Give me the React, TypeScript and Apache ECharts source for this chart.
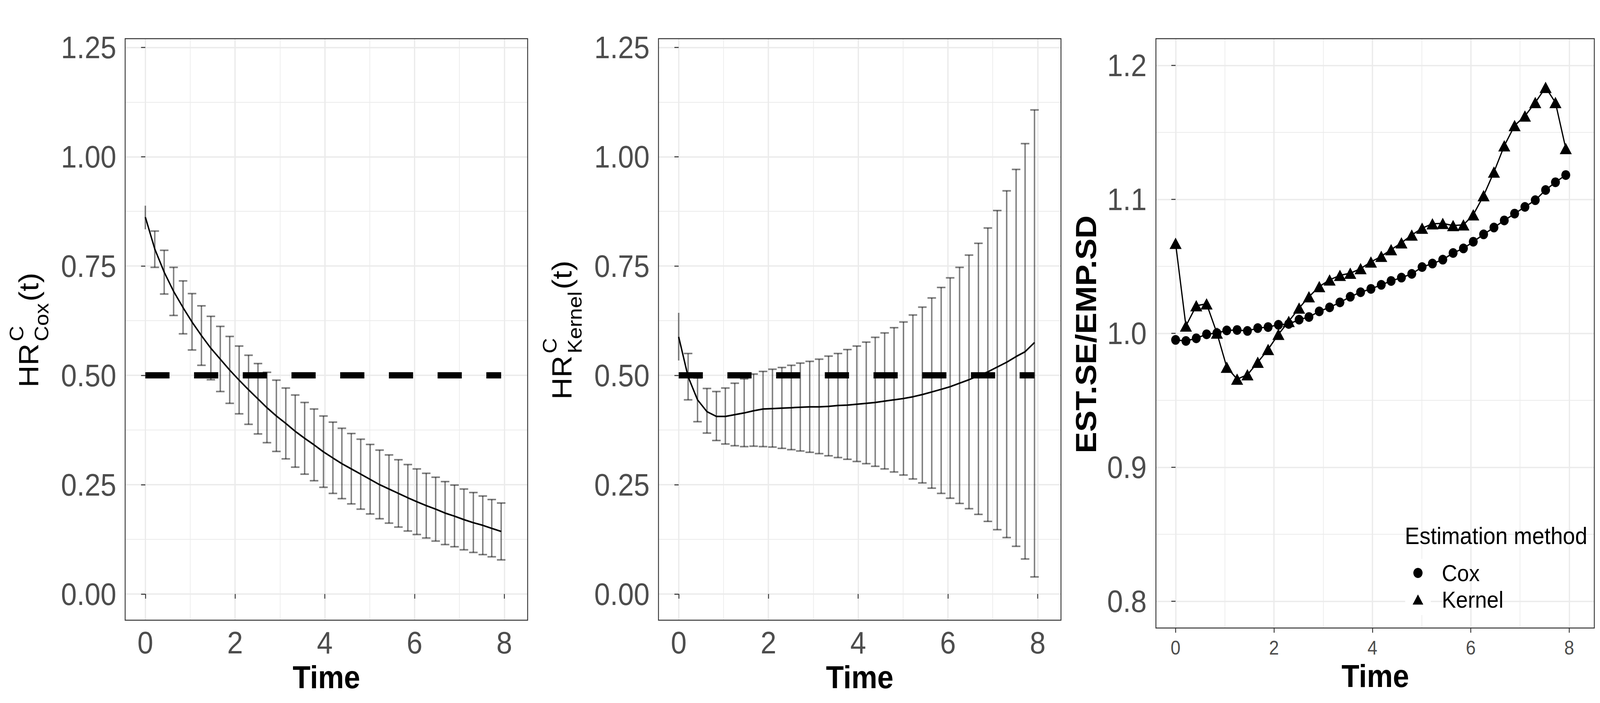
import React, { useEffect, useRef } from "react";
import * as echarts from "echarts";

// ---------- data ----------
const times = [
  0.0, 0.21, 0.42, 0.63, 0.84, 1.04, 1.25, 1.46, 1.67, 1.88, 2.09, 2.3, 2.51, 2.71, 2.92, 3.13,
  3.34, 3.55, 3.76, 3.97, 4.18, 4.38, 4.59, 4.8, 5.01, 5.22, 5.43, 5.64, 5.85, 6.05, 6.26, 6.47,
  6.68, 6.89, 7.1, 7.31, 7.52, 7.72, 7.93,
];

const coxEst = [
  0.862, 0.789, 0.736, 0.692, 0.655, 0.622, 0.591, 0.562, 0.537, 0.512, 0.489, 0.467, 0.446,
  0.426, 0.407, 0.39, 0.372, 0.356, 0.341, 0.325, 0.311, 0.298, 0.286, 0.274, 0.262, 0.25, 0.24,
  0.23, 0.22, 0.211, 0.202, 0.194, 0.185, 0.178, 0.17, 0.163, 0.157, 0.15, 0.143,
];
const coxUpper = [
  0.888, 0.83, 0.786, 0.747, 0.716, 0.687, 0.659, 0.635, 0.612, 0.589, 0.567, 0.546, 0.527,
  0.507, 0.489, 0.471, 0.455, 0.438, 0.423, 0.407, 0.393, 0.379, 0.367, 0.354, 0.342, 0.329,
  0.318, 0.307, 0.296, 0.286, 0.276, 0.267, 0.257, 0.249, 0.24, 0.232, 0.224, 0.216, 0.208,
];
const coxLower = [
  0.834, 0.747, 0.686, 0.637, 0.595, 0.558, 0.523, 0.49, 0.463, 0.436, 0.412, 0.388, 0.366,
  0.346, 0.326, 0.309, 0.29, 0.274, 0.259, 0.244, 0.23, 0.218, 0.206, 0.194, 0.183, 0.172, 0.162,
  0.153, 0.144, 0.136, 0.128, 0.121, 0.113, 0.108, 0.101, 0.095, 0.09, 0.085, 0.078,
];

const kernelEst = [
  0.588, 0.497, 0.444, 0.417, 0.406, 0.406, 0.41, 0.414, 0.419, 0.423, 0.424, 0.425, 0.426,
  0.427, 0.428, 0.428, 0.429, 0.431, 0.432, 0.434, 0.436, 0.438, 0.441, 0.444, 0.447, 0.451,
  0.456, 0.462, 0.468, 0.474, 0.482, 0.49, 0.499, 0.508, 0.519, 0.53, 0.543, 0.554, 0.575,
];
const kernelUpper = [
  0.643, 0.55, 0.494, 0.47, 0.463, 0.471, 0.482, 0.492, 0.503, 0.509, 0.514, 0.518, 0.523,
  0.528, 0.532, 0.537, 0.544, 0.55, 0.559, 0.567, 0.576, 0.587, 0.597, 0.609, 0.622, 0.638,
  0.656, 0.677, 0.701, 0.723, 0.747, 0.775, 0.802, 0.837, 0.877, 0.922, 0.971, 1.03, 1.107,
];
const kernelLower = [
  0.534, 0.444, 0.394, 0.368, 0.351, 0.343, 0.339, 0.337, 0.338, 0.337, 0.336, 0.333, 0.33,
  0.327, 0.324, 0.321, 0.316, 0.312, 0.308, 0.303, 0.298, 0.292, 0.286, 0.279, 0.272, 0.263,
  0.254, 0.242, 0.23, 0.219, 0.207, 0.195, 0.182, 0.166, 0.147, 0.129, 0.109, 0.08, 0.039,
];

const ratioCox = [
  0.9951, 0.9943, 0.9963, 0.9993, 1.0002, 1.0022, 1.0025, 1.0018, 1.0039, 1.0047, 1.0064, 1.007,
  1.0102, 1.0122, 1.0164, 1.0194, 1.0231, 1.0273, 1.0307, 1.0332, 1.0362, 1.0391, 1.0416, 1.0444,
  1.0495, 1.0521, 1.055, 1.06, 1.0634, 1.0684, 1.0739, 1.079, 1.0843, 1.0894, 1.0944, 1.0994,
  1.107, 1.1128, 1.1182,
];
const ratioKernel = [
  1.0672, 1.0055, 1.0206, 1.022, 1.0002, 0.9747, 0.9658, 0.9691, 0.9784, 0.988, 0.9993, 1.0089,
  1.0189, 1.0273, 1.0349, 1.0399, 1.0433, 1.0449, 1.0483, 1.0533, 1.0575, 1.0625, 1.0676, 1.0734,
  1.0785, 1.0818, 1.0821, 1.0805, 1.081, 1.0885, 1.1028, 1.1204, 1.14, 1.1551, 1.1623, 1.1723,
  1.1836, 1.1723, 1.138,
];

const refValue = 0.5;
const refStart = 0;
const refEnd = 7.93;

const hrTicks = [0, 0.25, 0.5, 0.75, 1.0, 1.25];
const hrMinorTicks = [0.125, 0.375, 0.625, 0.875, 1.125];
const timeTicks = [0, 2, 4, 6, 8];
const timeMinorTicks = [1, 3, 5, 7];
const ratioTicks = [0.8, 0.9, 1.0, 1.1, 1.2];
const ratioMinorTicks = [0.85, 0.95, 1.05, 1.15];

const methodNames = ["Cox", "Kernel"];
const legendTitle = "Estimation method";
const xTitle = "Time";
const ratioTitle = "EST.SE/EMP.SD";

// ---------- styling / layout ----------
const W = 4500;
const H = 1800;
const FONT = "'Liberation Sans', Arial, sans-serif";
const GRID_MAJOR = { color: "#ebebeb", width: 3.7 };
const GRID_MINOR = { color: "#ebebeb", width: 1.9 };
const TICK = { color: "#333333", width: 2.5 };

const panels = [
  { left: 352, top: 99, width: 1132, height: 1489 },
  { left: 1852, top: 99, width: 1132, height: 1489 },
  { left: 3251, top: 99, width: 1233, height: 1509 },
];

function mainX(gridIndex: number, min: number, max: number, fontSize: number, margin: number) {
  return {
    type: "value",
    gridIndex,
    min,
    max,
    position: "bottom",
    axisLine: { show: false },
    axisTick: { show: true, inside: false, length: 12, lineStyle: TICK, customValues: timeTicks },
    axisLabel: {
      show: true,
      customValues: timeTicks,
      fontSize,
      fontFamily: FONT,
      color: "#4d4d4d",
      margin,
      formatter: (v: number) => String(Math.round(v)),
    },
    splitLine: { show: true, lineStyle: GRID_MAJOR },
    minorTick: { show: false },
    minorSplitLine: { show: false },
  };
}
function minorX(gridIndex: number, min: number, max: number) {
  return {
    type: "value",
    gridIndex,
    min,
    max,
    axisLine: { show: false },
    axisTick: { show: false, customValues: timeMinorTicks },
    axisLabel: { show: false, customValues: timeMinorTicks },
    splitLine: { show: true, lineStyle: GRID_MINOR },
  };
}
function mainY(
  gridIndex: number,
  min: number,
  max: number,
  ticks: number[],
  digits: number,
  margin: number
) {
  return {
    type: "value",
    gridIndex,
    min,
    max,
    position: "left",
    axisLine: { show: false },
    axisTick: { show: true, inside: false, length: 12, lineStyle: TICK, customValues: ticks },
    axisLabel: {
      show: true,
      customValues: ticks,
      fontSize: 80,
      fontFamily: FONT,
      color: "#4d4d4d",
      margin,
      formatter: (v: number) => v.toFixed(digits),
    },
    splitLine: { show: true, lineStyle: GRID_MAJOR },
    minorTick: { show: false },
    minorSplitLine: { show: false },
  };
}
function minorY(gridIndex: number, min: number, max: number, ticks: number[]) {
  return {
    type: "value",
    gridIndex,
    min,
    max,
    axisLine: { show: false },
    axisTick: { show: false, customValues: ticks },
    axisLabel: { show: false, customValues: ticks },
    splitLine: { show: true, lineStyle: GRID_MINOR },
  };
}

function errorBarSeries(axisIndex: number, lower: number[], upper: number[]) {
  return {
    type: "custom",
    xAxisIndex: axisIndex,
    yAxisIndex: axisIndex,
    z: 2,
    silent: true,
    data: times.map((t, i) => [t, lower[i], upper[i]]),
    encode: { x: 0, y: [1, 2] },
    renderItem: (params: any, api: any) => {
      const x = api.value(0);
      const lo = api.coord([x, api.value(1)]);
      const hi = api.coord([x, api.value(2)]);
      const style = { stroke: "rgba(0,0,0,0.5)", lineWidth: 4, fill: null };
      const children: any[] = [
        { type: "line", shape: { x1: lo[0], y1: lo[1], x2: hi[0], y2: hi[1] }, style },
      ];
      if (params.dataIndex > 0) {
        const hw = 12;
        children.push({
          type: "line",
          shape: { x1: lo[0] - hw, y1: lo[1], x2: lo[0] + hw, y2: lo[1] },
          style,
        });
        children.push({
          type: "line",
          shape: { x1: hi[0] - hw, y1: hi[1], x2: hi[0] + hw, y2: hi[1] },
          style,
        });
      }
      return { type: "group", children };
    },
  };
}

function curveSeries(axisIndex: number, est: number[]) {
  return {
    type: "line",
    xAxisIndex: axisIndex,
    yAxisIndex: axisIndex,
    z: 3,
    silent: true,
    symbol: "none",
    data: times.map((t, i) => [t, est[i]]),
    lineStyle: { color: "#000000", width: 4 },
  };
}

function refSeries(axisIndex: number) {
  return {
    type: "line",
    xAxisIndex: axisIndex,
    yAxisIndex: axisIndex,
    z: 4,
    silent: true,
    symbol: "none",
    data: [
      [refStart, refValue],
      [refEnd, refValue],
    ],
    lineStyle: { color: "#000000", width: 16, type: [68, 69], cap: "butt" },
  };
}

function text(str: string, x: number, y: number, fontSize: number, opts: any = {}) {
  return {
    type: "text",
    x,
    y,
    silent: true,
    z: 50,
    rotation: opts.rotation || 0,
    style: {
      text: str,
      fontSize,
      fontFamily: FONT,
      fontWeight: opts.bold ? "bold" : "normal",
      fill: "#000000",
      align: opts.align || "left",
      verticalAlign: "middle",
    },
  };
}

function hrTitle(gx: number, gy: number, sub: string, subLen: number) {
  return {
    type: "group",
    x: gx,
    y: gy,
    rotation: Math.PI / 2,
    silent: true,
    children: [
      text("HR", 0, 80, 78),
      text("C", 118, 46.5, 55),
      text(sub, 118, 116.5, 55),
      text("(t)", 118 + subLen + 4, 80, 78),
    ],
  };
}

export default function App() {
  const ref = useRef<HTMLDivElement>(null);
  // fit the 4500x1800 drawing into the actual viewport
  const vw = typeof window !== "undefined" ? window.innerWidth : W;
  const vh = typeof window !== "undefined" ? window.innerHeight : H;
  const sx = Math.min(1, vw / W);
  const sy = Math.min(1, vh / H);

  useEffect(() => {
    document.documentElement.style.overflow = "hidden";
    document.body.style.overflow = "hidden";
    document.body.style.margin = "0";
    if (!ref.current) return;
    const chart = echarts.init(ref.current, undefined, { renderer: "svg" });

    const borders = panels.map((p) => ({
      type: "rect",
      silent: true,
      z: 100,
      shape: { x: p.left, y: p.top, width: p.width, height: p.height },
      style: { fill: "none", stroke: "#333333", lineWidth: 2.5 },
    }));

    const option: any = {
      animation: false,
      backgroundColor: "#ffffff",
      textStyle: { fontFamily: FONT },
      grid: panels.map((p) => ({
        ...p,
        containLabel: false,
        outerBoundsMode: "none",
        show: false,
      })),
      xAxis: [
        mainX(0, -0.45, 8.52, 80, 17),
        mainX(1, -0.45, 8.52, 80, 17),
        mainX(2, -0.4, 8.51, 50, 26),
        minorX(0, -0.45, 8.52),
        minorX(1, -0.45, 8.52),
        minorX(2, -0.4, 8.51),
      ],
      yAxis: [
        mainY(0, -0.06, 1.27, hrTicks, 2, 25),
        mainY(1, -0.06, 1.27, hrTicks, 2, 25),
        mainY(2, 0.78, 1.22, ratioTicks, 1, 26),
        minorY(0, -0.06, 1.27, hrMinorTicks),
        minorY(1, -0.06, 1.27, hrMinorTicks),
        minorY(2, 0.78, 1.22, ratioMinorTicks),
      ],
      legend: {
        show: true,
        orient: "vertical",
        left: 3973,
        top: 1437,
        padding: 0,
        itemWidth: 30,
        itemHeight: 26,
        itemGap: 8,
        selectedMode: false,
        z: 6,
        data: [
          { name: methodNames[0], icon: "circle" },
          { name: methodNames[1], icon: "triangle" },
        ],
        textStyle: {
          fontSize: 60,
          lineHeight: 60,
          color: "#000000",
          fontFamily: FONT,
          padding: [0, 0, 0, 47],
        },
      },
      series: [
        errorBarSeries(0, coxLower, coxUpper),
        curveSeries(0, coxEst),
        refSeries(0),
        errorBarSeries(1, kernelLower, kernelUpper),
        curveSeries(1, kernelEst),
        refSeries(1),
        {
          name: methodNames[0],
          type: "line",
          xAxisIndex: 2,
          yAxisIndex: 2,
          z: 3,
          silent: true,
          symbol: "circle",
          symbolSize: 25,
          showAllSymbol: true,
          data: times.map((t, i) => [t, ratioCox[i]]),
          itemStyle: { color: "#000000", borderWidth: 0 },
          lineStyle: { color: "#000000", width: 3.5 },
        },
        {
          name: methodNames[1],
          type: "line",
          xAxisIndex: 2,
          yAxisIndex: 2,
          z: 3,
          silent: true,
          symbol: "triangle",
          symbolSize: [34, 29],
          showAllSymbol: true,
          data: times.map((t, i) => [t, ratioKernel[i]]),
          itemStyle: { color: "#000000", borderWidth: 0 },
          lineStyle: { color: "#000000", width: 3.5 },
        },
      ],
      graphic: [
        ...borders,
        {
          type: "rect",
          silent: true,
          z: 3,
          shape: { x: 3952, y: 1431, width: 72, height: 144 },
          style: { fill: "#ffffff" },
        },
        text(xTitle, 918, 1734, 82, { bold: true, align: "center" }),
        text(xTitle, 2418, 1734, 82, { bold: true, align: "center" }),
        text(xTitle, 3868, 1731, 82, { bold: true, align: "center" }),
        text(ratioTitle, 3054, 856, 82, { bold: true, align: "center", rotation: Math.PI / 2 }),
        hrTitle(0, 992, "Cox", 98),
        hrTitle(1500, 1023, "Kernel", 160),
        text(legendTitle, 3951, 1372, 62),
      ],
    };
    chart.setOption(option);
    return () => chart.dispose();
  }, []);

  return (
    <div
      ref={ref}
      style={{
        position: "absolute",
        left: 0,
        top: 0,
        width: W,
        height: H,
        transformOrigin: "0 0",
        transform: `scale(${sx}, ${sy})`,
      }}
    />
  );
}
